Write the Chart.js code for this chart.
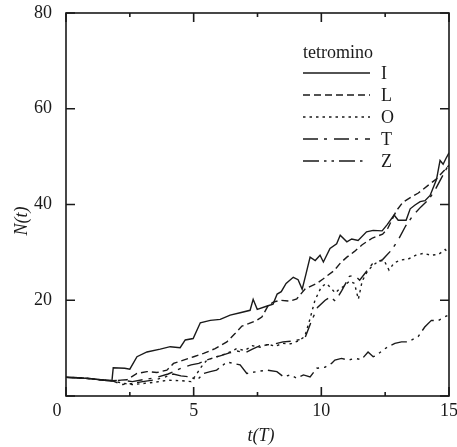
<!DOCTYPE html>
<html>
<head>
<meta charset="utf-8">
<script src="https://cdn.jsdelivr.net/npm/chart.js@4/dist/chart.umd.min.js"></script>
<style>
  body { margin: 0; background: #fff; }
  #wrap { width: 457px; height: 447px; }
</style>
</head>
<body>
<div id="wrap"><canvas id="chart" width="457" height="447"></canvas></div>
<script>
// series: time t(T) and count N(t), one pair of arrays per tetromino
var tI = [0, 0.5, 1, 1.5, 1.8, 1.85, 2.3, 2.5, 2.78, 3.17, 3.69, 4.08, 4.47, 4.67, 4.98, 5.26, 5.65, 6.04, 6.43, 6.82, 7.21, 7.33, 7.49, 7.88, 8.11, 8.27, 8.43, 8.62, 8.9, 9.09, 9.25, 9.4, 9.56, 9.76, 9.95, 10.08, 10.34, 10.6, 10.74, 11.0, 11.19, 11.44, 11.77, 12.03, 12.38, 12.58, 12.85, 13.01, 13.32, 13.48, 13.67, 13.87, 14.06, 14.26, 14.51, 14.65, 14.77, 14.88, 15];
var nI = [3.9, 3.8, 3.6, 3.3, 3.2, 5.9, 5.8, 5.6, 8.2, 9.2, 9.8, 10.3, 10.1, 11.7, 12.0, 15.3, 15.8, 16.0, 16.9, 17.4, 17.9, 20.2, 18.1, 18.8, 19.2, 21.3, 21.8, 23.5, 24.8, 24.3, 22.3, 25.5, 29.0, 28.3, 29.4, 28.0, 30.8, 31.8, 33.6, 32.2, 32.8, 32.5, 34.3, 34.6, 34.5, 35.8, 37.8, 36.7, 36.7, 39.1, 39.9, 40.6, 40.8, 41.9, 45.2, 49.2, 48.4, 49.6, 50.8];

var tL = [0, 0.5, 1, 1.5, 1.8, 2.06, 2.39, 2.78, 3.17, 3.56, 3.95, 4.21, 4.6, 5.0, 5.39, 5.84, 6.3, 6.63, 6.89, 7.15, 7.47, 7.67, 7.93, 8.12, 8.39, 8.78, 9.04, 9.37, 9.82, 10.08, 10.5, 10.75, 11.0, 11.3, 11.6, 12.0, 12.4, 12.6, 12.94, 13.2, 13.5, 13.8, 14.18, 14.5, 14.83, 15];
var nL = [3.9, 3.8, 3.6, 3.3, 3.2, 3.3, 3.4, 4.7, 5.1, 4.9, 5.4, 6.8, 7.5, 8.2, 8.9, 9.9, 11.3, 13.1, 14.6, 15.1, 15.8, 16.5, 19.0, 19.6, 20.0, 19.8, 20.3, 22.4, 23.5, 24.5, 26.2, 27.8, 29.0, 30.2, 31.6, 33.0, 33.8, 35.0, 38.7, 40.5, 41.5, 42.4, 44.0, 45.3, 47.2, 48.2];

var tO = [0, 0.5, 1, 1.5, 1.8, 2.2, 2.6, 3.0, 3.5, 4.0, 4.5, 4.9, 5.13, 5.3, 5.52, 5.9, 6.3, 6.69, 7.0, 7.3, 7.6, 7.9, 8.2, 8.5, 8.8, 9.1, 9.35, 9.55, 9.75, 10.0, 10.2, 10.4, 10.55, 10.7, 10.9, 11.1, 11.3, 11.45, 11.6, 11.8, 12.0, 12.2, 12.45, 12.65, 12.85, 13.1, 13.4, 13.7, 14.0, 14.3, 14.6, 14.85, 15];
var nO = [3.9, 3.8, 3.6, 3.3, 3.2, 2.7, 2.4, 2.6, 2.9, 3.3, 3.2, 3.0, 4.7, 6.1, 7.5, 8.2, 8.9, 9.9, 9.5, 10.5, 10.2, 10.8, 10.4, 11.0, 10.9, 11.5, 12.4, 16.0, 20.0, 22.8, 23.5, 22.4, 21.5, 22.3, 23.0, 24.0, 23.5, 20.2, 24.0, 26.0, 27.2, 28.0, 28.4, 26.3, 27.8, 28.4, 28.6, 29.4, 29.8, 29.4, 29.6, 30.6, 29.8];

var tT = [0, 0.5, 1, 1.5, 1.8, 2.2, 2.6, 3.0, 3.5, 4.0, 4.3, 4.6, 4.9, 5.2, 5.5, 5.8, 6.1, 6.4, 6.7, 7.0, 7.3, 7.6, 7.9, 8.2, 8.5, 8.9, 9.35, 9.6, 9.85, 10.15, 10.35, 10.55, 10.8, 11.1, 11.3, 11.5, 11.75, 12.0, 12.4, 12.75, 13.0, 13.3, 13.6, 13.9, 14.2, 14.45, 14.7, 14.9, 15];
var nT = [3.9, 3.8, 3.6, 3.3, 3.2, 3.3, 3.0, 3.4, 3.8, 4.6, 5.3, 6.0, 6.5, 6.8, 7.5, 8.0, 8.5, 9.0, 9.4, 9.0, 9.8, 10.5, 10.7, 10.9, 11.3, 11.5, 12.0, 15.5, 18.5, 20.0, 20.7, 19.8, 22.0, 25.0, 25.2, 24.2, 25.9, 27.6, 28.5, 30.5, 32.5, 35.5, 37.8, 39.5, 41.0, 43.0, 45.5, 47.5, 48.3];

var tZ = [0, 0.5, 1, 1.5, 1.8, 2.2, 2.6, 3.0, 3.5, 3.9, 4.2, 4.5, 4.87, 5.13, 5.39, 5.65, 5.9, 6.3, 6.56, 6.82, 7.08, 7.47, 7.87, 8.26, 8.52, 8.78, 9.04, 9.3, 9.56, 9.82, 10.14, 10.4, 10.53, 10.79, 11.05, 11.31, 11.57, 11.83, 12.03, 12.16, 12.42, 12.61, 12.88, 13.14, 13.4, 13.79, 14.05, 14.31, 14.57, 14.83, 15];
var nZ = [3.9, 3.8, 3.6, 3.3, 3.2, 2.4, 2.6, 3.0, 3.4, 4.0, 4.6, 4.2, 4.0, 3.3, 4.7, 5.1, 5.4, 7.1, 6.8, 6.5, 4.7, 5.1, 5.4, 5.1, 4.0, 4.4, 3.7, 4.4, 4.0, 5.8, 6.0, 6.8, 7.5, 7.85, 7.5, 7.85, 7.6, 9.2, 8.2, 8.5, 9.6, 10.3, 11.0, 11.3, 11.3, 12.4, 14.4, 15.8, 15.7, 16.5, 17.0];

var names = ['I', 'L', 'O', 'T', 'Z'];
var xTicks = [0, 5, 10, 15];
var xMinor = [2.5, 7.5, 12.5];
var yTicks = [0, 20, 40, 60, 80];

var ink = '#1a1a1a';
var serif = 'Liberation Serif';

function pts(t, n) {
  return t.map(function(v, i) { return {x: v, y: n[i]}; });
}

var dashes = [[], [7, 4], [2.5, 4], [15, 6, 3, 7], [16, 5, 2.5, 5, 2.5, 5]];
var series = [pts(tI, nI), pts(tL, nL), pts(tO, nO), pts(tT, nT), pts(tZ, nZ)];

// frame, inward ticks, axis titles, legend
var decor = {
  id: 'decor',
  afterDraw: function(chart) {
    var ctx = chart.ctx;
    var a = chart.chartArea;
    var xs = chart.scales.x, ys = chart.scales.y;
    ctx.save();
    ctx.strokeStyle = ink;
    ctx.lineWidth = 1.6;
    ctx.setLineDash([]);
    ctx.strokeRect(a.left, a.top, a.right - a.left, a.bottom - a.top);

    ctx.beginPath();
    xTicks.concat(xMinor).forEach(function(v) {
      var px = xs.getPixelForValue(v);
      var len = xMinor.indexOf(v) >= 0 ? 4 : 9;
      ctx.moveTo(px, a.bottom); ctx.lineTo(px, a.bottom - len);
      ctx.moveTo(px, a.top); ctx.lineTo(px, a.top + len);
    });
    yTicks.forEach(function(v) {
      var py = ys.getPixelForValue(v);
      ctx.moveTo(a.left, py); ctx.lineTo(a.left + 9, py);
      ctx.moveTo(a.right, py); ctx.lineTo(a.right - 9, py);
    });
    ctx.stroke();

    ctx.fillStyle = ink;
    ctx.textBaseline = 'middle';

    // axis titles
    ctx.font = 'italic 18px "' + serif + '"';
    ctx.textAlign = 'center';
    ctx.fillText('t(T)', 261, 436);
    ctx.save();
    ctx.translate(22, 221);
    ctx.rotate(-Math.PI / 2);
    ctx.fillText('N(t)', 0, 0);
    ctx.restore();

    // legend
    ctx.font = '18px "' + serif + '"';
    ctx.textAlign = 'left';
    ctx.fillText('tetromino', 303, 53);
    chart.data.datasets.forEach(function(ds, i) {
      var y = 73 + i * 22;
      ctx.beginPath();
      ctx.lineWidth = 1.5;
      ctx.setLineDash(ds.borderDash);
      ctx.moveTo(303, y);
      ctx.lineTo(i === 4 ? 366 : 370, y);
      ctx.stroke();
      ctx.setLineDash([]);
      ctx.fillText(ds.label, 381, y + 1);
    });
    ctx.restore();
  }
};

var chart = new Chart(document.getElementById('chart'), {
  type: 'line',
  data: {
    datasets: series.map(function(s, i) {
      return {
        label: names[i],
        data: s,
        borderColor: ink,
        borderWidth: 1.4,
        borderDash: dashes[i],
        pointRadius: 0,
        tension: 0,
        fill: false
      };
    })
  },
  options: {
    responsive: false,
    animation: false,
    layout: { padding: { top: 13, right: 8, left: 0, bottom: 0 } },
    plugins: {
      legend: { display: false },
      tooltip: { enabled: false }
    },
    scales: {
      x: {
        type: 'linear',
        min: 0, max: 15,
        grid: { display: false },
        border: { display: false },
        ticks: {
          stepSize: 5,
          padding: -4,
          color: ink,
          font: { family: serif, size: 18 },
          maxRotation: 0,
          callback: function(v) { return v === 0 ? '0    ' : String(v); }
        },
        afterFit: function(s) { s.height = 51; s.paddingLeft = 0; s.paddingRight = 0; }
      },
      y: {
        min: 0, max: 80,
        grid: { display: false },
        border: { display: false },
        ticks: {
          stepSize: 20,
          padding: 6,
          color: ink,
          font: { family: serif, size: 18 },
          callback: function(v) { return v === 0 ? '' : String(v); }
        },
        afterFit: function(s) { s.width = 66; s.paddingTop = 0; s.paddingBottom = 0; }
      }
    }
  },
  plugins: [decor]
});
</script>
</body>
</html>
